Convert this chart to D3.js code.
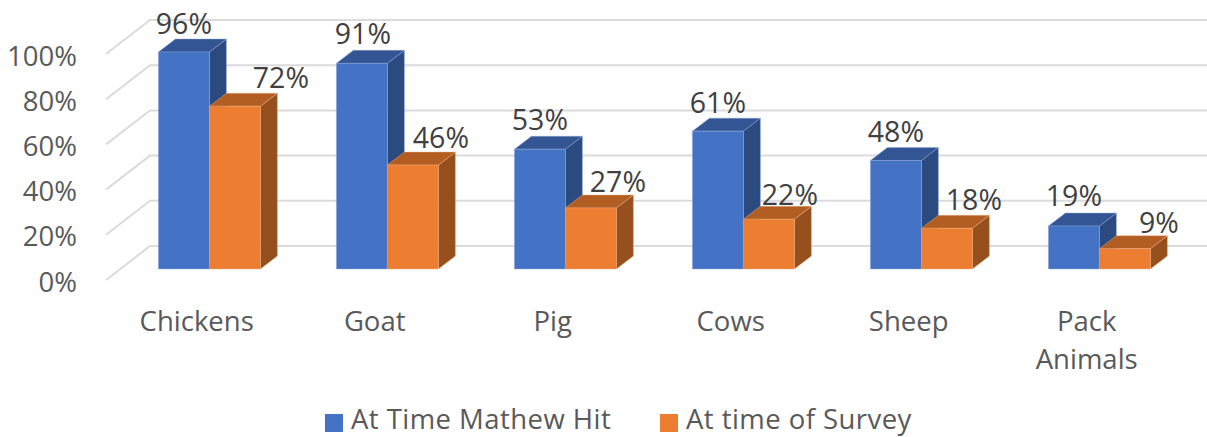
<!DOCTYPE html>
<html><head><meta charset="utf-8">
<script src="https://cdn.jsdelivr.net/npm/d3@7"></script>
<style>
html,body{margin:0;padding:0;background:#fff;overflow:hidden}
text{font-family:"Open Sans",sans-serif}
</style></head><body>
<svg id="c" width="1207" height="437"></svg>
<script>
const categories = ["Chickens","Goat","Pig","Cows","Sheep","Pack Animals"];
const seriesNames = ["At Time Mathew Hit","At time of Survey"];
const mathewHit = [96,91,53,61,48,19];
const atSurvey = [72,46,27,22,18,9];
const yTicks = [0,20,40,60,80,100];
// manual data-label nudges, as in the source chart (px, from bar centre)
const labelDx = [[0,46],[1,28],[0,27],[0,21],[0,27],[0,34]];
const labelDy = [[-18,-18],[-19,-17],[-19,-16],[-18,-14],[-19,-18],[-20,-16]];

const colors = [
  {front:"#4472c4",top:"#335593",side:"#2a4a80",edge:"#8fabdd"},
  {front:"#ed7d31",top:"#b25d22",side:"#95501d",edge:"#f4b183"}
];
const svg = d3.select("#c");
const y = d3.scaleLinear().domain([0,100]).range([280,54]);
const x = d3.scaleBand().domain(categories).range([120.4,1188.4]).paddingInner(0).paddingOuter(0);
const barW = 51;
const floorDrop = 11;            // bar base sits part-way along the floor
const gridDx = 44, gridDy = 34;  // floor depth of the grid
const barDx = 17, barDy = 13;    // depth of each bar

// grid
const grid = svg.append("g").attr("fill","none").attr("stroke","#dbdbdb").attr("stroke-width",2);
yTicks.forEach(t=>{
  const p = d3.path();
  p.moveTo(106,y(t));
  p.lineTo(106+gridDx,y(t)-gridDy);
  p.lineTo(1207,y(t)-gridDy);
  grid.append("path").attr("d",p.toString());
});

// y axis labels
const yAxis = d3.axisLeft(y).tickValues(yTicks).tickSize(0).tickPadding(0).tickFormat(d=>d+"%");
const gy = svg.append("g").attr("transform","translate(77,0)").call(yAxis);
gy.select(".domain").remove();
gy.selectAll("text").attr("fill","#595959").style("font-size","27.5px").style("font-family",'"Open Sans",sans-serif')
  .attr("dy",null).attr("y",11).attr("dominant-baseline","auto");

const poly = (g,pts,fill,edge)=>g.append("polygon")
  .attr("points",pts.map(p=>p.join(",")).join(" "))
  .attr("fill",fill).attr("stroke",edge).attr("stroke-width",0.8).attr("stroke-opacity",0.55);
const bars = svg.append("g");
categories.forEach((c,i)=>{
  const x0 = x(c)+ (x.bandwidth()-2*barW)/2;
  [mathewHit[i],atSurvey[i]].forEach((v,s)=>{
    const col = colors[s];
    const l = x0+s*barW, r = l+barW;
    const top = y(v)-floorDrop, base = y(0)-floorDrop;
    const g = bars.append("g");
    poly(g,[[r,base],[r+barDx,base-barDy],[r+barDx,top-barDy],[r,top]],col.side,col.edge);
    poly(g,[[l,top],[l+barDx,top-barDy],[r+barDx,top-barDy],[r,top]],col.top,col.edge);
    poly(g,[[l,base],[r,base],[r,top],[l,top]],col.front,col.edge);
  });
});

// data labels
categories.forEach((c,i)=>{
  const x0 = x(c)+ (x.bandwidth()-2*barW)/2;
  [mathewHit[i],atSurvey[i]].forEach((v,s)=>{
    svg.append("text")
      .attr("x",x0+s*barW+barW/2+labelDx[i][s])
      .attr("y",y(v)-floorDrop+labelDy[i][s])
      .attr("text-anchor","middle").attr("fill","#404040")
      .style("font-size","28.5px").text(v+"%");
  });
});

// category labels
categories.forEach(c=>{
  const cx = x(c)+x.bandwidth()/2-12.7;
  const t = svg.append("text").attr("text-anchor","middle").attr("fill","#595959").style("font-size","27.5px");
  const lines = c==="Pack Animals" ? c.split(" ") : [c];
  lines.forEach((w,k)=>t.append("tspan").attr("x",cx).attr("y",331+k*38).text(w));
});

// legend
const legendX = [325,660];
seriesNames.forEach((n,s)=>{
  svg.append("rect").attr("x",legendX[s]).attr("y",414).attr("width",18).attr("height",18).attr("fill",colors[s].front);
  svg.append("text").attr("x",legendX[s]+26).attr("y",428.8).attr("fill","#595959")
    .style("font-size","27.5px").style("letter-spacing","0.45px").text(n);
});
</script>
</body></html>
